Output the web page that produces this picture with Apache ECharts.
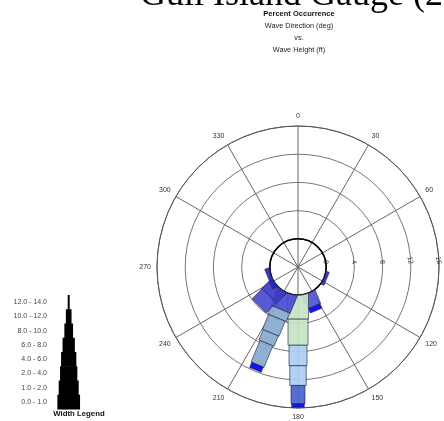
<!DOCTYPE html>
<html><head><meta charset="utf-8">
<script src="https://cdn.jsdelivr.net/npm/echarts@6/dist/echarts.min.js"></script>
<style>html,body{margin:0;padding:0;background:#fff}#c{width:444px;height:421px}</style>
</head><body><div id="c"></div>
<script>
// ---- data ----
const directions = [0, 22.5, 45, 67.5, 90, 112.5, 135, 157.5, 180, 202.5, 225, 247.5, 270, 292.5, 315, 337.5];
const heightBins = ['0.0 - 1.0', '1.0 - 2.0', '2.0 - 4.0', '4.0 - 6.0', '6.0 - 8.0', '8.0 - 10.0', '10.0 - 12.0', '12.0 - 14.0'];
// percent occurrence, one array per wave-height bin, indexed like directions
const pctBin0 = [0, 0, 0, 0, 0, 0, 0, 0, 3.4, 2.5, 1.8, 0.5, 0, 0, 0, 0];
const pctBin1 = [0, 0, 0, 0, 0, 0, 0, 0, 3.7, 1.3, 2.0, 0, 0, 0, 0, 0];
const pctBin2 = [0, 0, 0, 0, 0, 0, 0, 0, 2.9, 2.3, 0, 0, 0, 0, 0, 0];
const pctBin3 = [0, 0, 0, 0, 0, 0, 0, 0, 2.8, 1.6, 0, 0, 0, 0, 0, 0];
const pctBin4 = [0, 0, 0, 0, 0, 0.4, 0, 2.0, 2.6, 3.3, 0, 0, 0, 0, 0, 0];
const pctBin5 = [0, 0, 0, 0, 0, 0, 0, 0.7, 0.5, 0.8, 0, 0, 0, 0, 0, 0];
const pctBin6 = [0, 0, 0, 0, 0, 0, 0, 0, 0, 0, 0, 0, 0, 0, 0, 0];
const pctBin7 = [0, 0, 0, 0, 0, 0, 0, 0, 0, 0, 0, 0, 0, 0, 0, 0];
const radiusTicks = [0, 4, 8, 12, 16];

// ---- styles ----
const binWidths = [21, 20, 18, 16.5, 14, 12.5, 9, 6];
const legendWidths = [22.7, 20, 17.3, 15.3, 12.3, 8.7, 5.7, 2];
const segmentColors = {
  '112.5|4': '#2626bf',
  '157.5|4': '#5252d4', '157.5|5': '#0000f0',
  '180|0': '#c6e3c6', '180|1': '#c6e3c6', '180|2': '#abcdf4', '180|3': '#abcdf4', '180|4': '#4663cc', '180|5': '#0000f0',
  '202.5|0': '#4a4ad2', '202.5|1': '#86a9cf', '202.5|2': '#86a9cf', '202.5|3': '#86a9cf', '202.5|4': '#86a9cf', '202.5|5': '#0000f0',
  '225|0': '#3a3ac4', '225|1': '#4b4bd2',
  '247.5|0': '#2626bf'
};

const pctByBin = [pctBin0, pctBin1, pctBin2, pctBin3, pctBin4, pctBin5, pctBin6, pctBin7];
const segs = [];
directions.forEach((d, i) => {
  let cum = 0;
  pctByBin.forEach((arr, b) => {
    const v = arr[i];
    if (v > 0) {
      segs.push({ value: [cum + v, d < 90 ? d + 360 : d, cum, b], dir: d });
      cum += v;
    }
  });
});
const rMin = -4, rMax = 16;

function renderBar(params, api) {
  const item = segs[params.dataIndex];
  const end = api.value(0), ang = api.value(1), start = api.value(2), bin = api.value(3);
  const c = api.coord([rMin, ang]);
  const o = api.coord([rMax, ang]);
  const L = Math.hypot(o[0] - c[0], o[1] - c[1]);
  const dx = (o[0] - c[0]) / L, dy = (o[1] - c[1]) / L;
  const nx = -dy, ny = dx;
  const unit = L / (rMax - rMin);
  const u0 = (start - rMin) * unit, u1 = (end - rMin) * unit;
  const R0 = (0 - rMin) * unit;
  const h = binWidths[bin] / 2;
  const P = (u, t) => [c[0] + u * dx + t * nx, c[1] + u * dy + t * ny];
  let pts = [];
  if (start === 0) {
    const N = 20, inner = [];
    for (let k = 0; k <= N; k++) {
      const t = -h + 2 * h * k / N;
      const uc = Math.sqrt(Math.max(0, R0 * R0 - t * t));
      if (uc < u1) { pts.push(P(u1, t)); inner.push(P(uc, t)); }
    }
    pts = pts.concat(inner.reverse());
  } else {
    pts = [P(u0, -h), P(u1, -h), P(u1, h), P(u0, h)];
  }
  return {
    type: 'polygon', shape: { points: pts },
    style: { fill: segmentColors[item.dir + '|' + bin] || '#4a4ad2', stroke: '#2a2a40', lineWidth: 0.7, opacity: 0.92 }
  };
}

function renderInner(params, api) {
  const c = api.coord([rMin, 90]);
  const p = api.coord([0, 90]);
  return { type: 'circle', shape: { cx: c[0], cy: c[1], r: Math.hypot(p[0] - c[0], p[1] - c[1]) },
    style: { fill: null, stroke: '#000', lineWidth: 1.6 } };
}

function renderLegend(params, api) {
  const b = api.value(1);
  const p = api.coord([0, b]);
  const bh = api.size([0, 1])[1];
  const w = legendWidths[b];
  return { type: 'rect', shape: { x: p[0] - w / 2, y: p[1] - bh / 2, width: w, height: bh + 0.5 }, style: { fill: '#000' } };
}

const spokeColors = ['rgba(0,0,0,0)', '#666', '#666', '#666', '#666', '#666', 'rgba(0,0,0,0)', '#666', '#666', '#666', '#666', '#666'];

const chart = echarts.init(document.getElementById('c'));
chart.setOption({
  animation: false,
  backgroundColor: '#fff',
  title: [
    { text: 'Gull Island Gauge (2005)', left: 140, top: -22, padding: 0,
      textStyle: { fontFamily: 'Liberation Serif', fontSize: 36, fontWeight: 'normal', color: '#000' } },
    { text: 'Percent Occurrence', left: 299, top: 10, padding: 0, textAlign: 'center',
      textStyle: { fontFamily: 'Liberation Sans', fontSize: 7.5, fontWeight: 'bold', color: '#111' } },
    { text: 'Wave Direction (deg)', left: 299, top: 22, padding: 0, textAlign: 'center',
      textStyle: { fontFamily: 'Liberation Sans', fontSize: 7.3, fontWeight: 'normal', color: '#222' } },
    { text: 'vs.', left: 299, top: 34, padding: 0, textAlign: 'center',
      textStyle: { fontFamily: 'Liberation Sans', fontSize: 7.3, fontWeight: 'normal', color: '#222' } },
    { text: 'Wave Height (ft)', left: 299, top: 46, padding: 0, textAlign: 'center',
      textStyle: { fontFamily: 'Liberation Sans', fontSize: 7.3, fontWeight: 'normal', color: '#222' } },
    { text: 'Width Legend', left: 79, top: 410, padding: 0, textAlign: 'center',
      textStyle: { fontFamily: 'Liberation Sans', fontSize: 7.8, fontWeight: 'bold', color: '#111' } }
  ],
  polar: { center: [298, 267], radius: 141 },
  angleAxis: {
    type: 'value', min: 90, max: 450, interval: 30, startAngle: 0, clockwise: true,
    axisLine: { show: true, lineStyle: { color: '#555', width: 1 } },
    axisTick: { show: false },
    axisLabel: { margin: 6, fontSize: 7, color: '#333', fontFamily: 'Liberation Sans',
      formatter: v => { const d = v % 360; return d === 90 ? '' : String(d); } },
    splitLine: { show: true, lineStyle: { color: spokeColors, width: 1 } }
  },
  radiusAxis: {
    type: 'value', min: rMin, max: rMax, interval: 4,
    axisLine: { show: false }, axisTick: { show: false },
    axisLabel: { fontSize: 7, color: '#333', margin: 3, rotate: -80, inside: true, fontFamily: 'Liberation Sans',
      formatter: v => radiusTicks.indexOf(v) >= 0 ? String(v) : '' },
    splitLine: { show: true, lineStyle: { color: ['rgba(0,0,0,0)', '#000', '#777', '#777', '#777', '#777'], width: 1 } }
  },
  grid: { left: 55, top: 295, width: 27.4, height: 114 },
  xAxis: { type: 'value', min: -1, max: 1, show: false },
  yAxis: { type: 'category', data: heightBins, axisLine: { show: false }, axisTick: { show: false },
    axisLabel: { fontSize: 7, color: '#444', margin: 8, fontFamily: 'Liberation Sans' } },
  series: [
    { type: 'custom', coordinateSystem: 'polar', renderItem: renderInner, data: [[0, 90]], z: 2, silent: true },
    { type: 'custom', coordinateSystem: 'polar', renderItem: renderBar, data: segs, z: 3 },
    { type: 'custom', coordinateSystem: 'cartesian2d', renderItem: renderLegend,
      data: heightBins.map((b, i) => [0, i]), z: 3 }
  ]
});
</script></body></html>
